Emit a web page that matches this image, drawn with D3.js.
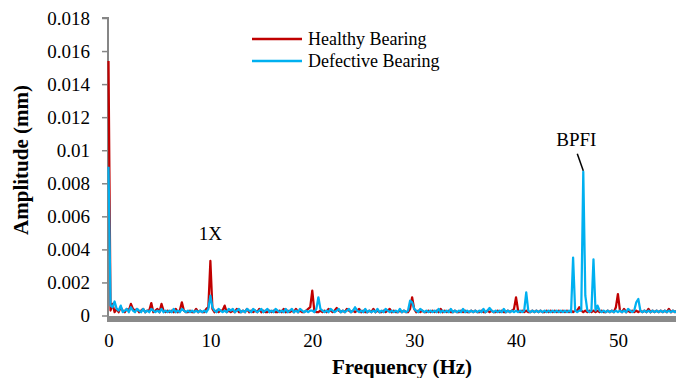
<!DOCTYPE html>
<html>
<head>
<meta charset="utf-8">
<script src="https://cdn.jsdelivr.net/npm/d3@7"></script>
<style>
html,body{margin:0;padding:0;background:#fff;}
svg{display:block;}
text{font-family:"Liberation Serif","DejaVu Serif",serif;fill:#000;}
</style>
</head>
<body>
<svg id="chart" width="676" height="378"></svg>
<script>
// ---- data (frequency step 0.2 Hz, starting at 0 Hz) ----
const freqStep = 0.2;
const healthy = [
0.0154,0.0003,0.0007,0.0002,0.0004,0.0002,0.0005,0.0003,0.0002,0.0004,
0.0003,0.0007,0.0004,0.0003,0.0004,0.0002,0.0003,0.0004,0.0002,0.0003,
0.0003,0.00075,0.0002,0.0003,0.0004,0.0002,0.0007,0.0003,0.0002,0.0003,
0.0002,0.0003,0.0002,0.0004,0.0002,0.0003,0.0008,0.0003,0.0002,0.0002,
0.0003,0.0002,0.0002,0.0004,0.0002,0.0003,0.0002,0.0002,0.0004,0.0005,
0.0033,0.0004,0.0002,0.0003,0.0002,0.0003,0.0003,0.0006,0.0002,0.0003,
0.0002,0.0003,0.0002,0.0004,0.0002,0.0002,0.0003,0.0002,0.0004,0.0002,
0.0003,0.0002,0.0003,0.0002,0.0004,0.0002,0.0003,0.0002,0.0002,0.0003,
0.0002,0.0003,0.0002,0.0002,0.0003,0.0002,0.0004,0.0002,0.0003,0.0002,
0.0003,0.0002,0.0004,0.0002,0.0003,0.0002,0.0002,0.0003,0.0004,0.0005,
0.0015,0.0003,0.0002,0.0002,0.0003,0.0002,0.0003,0.0002,0.0004,0.0003,
0.0002,0.0003,0.00045,0.0003,0.0002,0.0003,0.0002,0.0004,0.0003,0.0002,
0.0003,0.0002,0.0003,0.0004,0.0002,0.0003,0.0002,0.0002,0.0003,0.0002,
0.0004,0.0002,0.0003,0.0002,0.0002,0.0003,0.0002,0.0003,0.0004,0.0002,
0.0003,0.0002,0.0002,0.0003,0.0002,0.0003,0.0002,0.0002,0.0004,0.0011,
0.0004,0.0002,0.0003,0.0002,0.0003,0.0002,0.0002,0.0003,0.0002,0.0003,
0.0002,0.0003,0.0002,0.0004,0.0002,0.0003,0.0002,0.0003,0.0002,0.0002,
0.0003,0.0002,0.0002,0.0003,0.0002,0.0003,0.0002,0.0002,0.0003,0.0002,
0.0003,0.0002,0.0002,0.0003,0.0002,0.0002,0.0003,0.0002,0.0003,0.0002,
0.0002,0.0003,0.0002,0.0003,0.0002,0.0002,0.0003,0.0002,0.0003,0.0004,
0.0011,0.0003,0.0002,0.0003,0.0002,0.0003,0.0002,0.0002,0.0003,0.0002,
0.0003,0.0002,0.0003,0.0002,0.0002,0.0003,0.0002,0.0003,0.0002,0.0003,
0.0002,0.0003,0.0002,0.0003,0.0002,0.0003,0.0002,0.0003,0.0002,0.0003,
0.0003,0.0005,0.0003,0.0002,0.0003,0.0002,0.0003,0.0002,0.0003,0.0002,
0.0003,0.0002,0.0003,0.0002,0.0002,0.0003,0.0002,0.0003,0.0002,0.0005,
0.0013,0.0003,0.0002,0.0004,0.0002,0.0003,0.0002,0.0003,0.0002,0.0003,
0.0002,0.0003,0.0002,0.0003,0.0002,0.0004,0.0002,0.0003,0.0002,0.0003,
0.0002,0.0003,0.0002,0.0003,0.0002,0.0004,0.0002,0.0003,0.0002,0.0003
];
const defective = [
0.009,0.0006,0.0005,0.00085,0.0004,0.0003,0.0006,0.0002,0.0003,0.0004,
0.0002,0.0005,0.0003,0.0002,0.0004,0.0003,0.0002,0.0004,0.0002,0.0003,
0.0002,0.0004,0.0003,0.0002,0.0003,0.0002,0.0004,0.0002,0.0003,0.0002,
0.0003,0.0002,0.0004,0.0002,0.0003,0.0002,0.0004,0.0003,0.0002,0.0003,
0.0002,0.0003,0.0002,0.0003,0.0002,0.0003,0.0002,0.0003,0.0002,0.0004,
0.0012,0.0005,0.0003,0.0002,0.0004,0.0003,0.0002,0.0003,0.0002,0.0004,
0.0003,0.0004,0.0002,0.0003,0.0004,0.0002,0.0003,0.0002,0.0004,0.0003,
0.0002,0.0004,0.0003,0.0002,0.0003,0.0004,0.0002,0.0003,0.0004,0.0002,
0.0003,0.0002,0.0004,0.0003,0.0002,0.0003,0.0002,0.0004,0.0002,0.0003,
0.0004,0.0002,0.0003,0.0002,0.0004,0.0003,0.0002,0.0003,0.0002,0.0003,
0.0003,0.0002,0.0004,0.0011,0.0004,0.0003,0.0002,0.0003,0.0002,0.0004,
0.0003,0.0002,0.0003,0.0004,0.0002,0.0003,0.0002,0.0003,0.0004,0.0002,
0.0003,0.0005,0.0003,0.0002,0.0003,0.0002,0.0004,0.0002,0.0003,0.0002,
0.0003,0.0002,0.0004,0.0002,0.0003,0.0002,0.0004,0.0003,0.0002,0.0003,
0.0002,0.0003,0.0002,0.0004,0.0002,0.0003,0.0002,0.0003,0.0009,0.0008,
0.0004,0.0003,0.0002,0.0004,0.0003,0.0002,0.0003,0.0002,0.0003,0.0002,
0.0003,0.0002,0.0004,0.0002,0.0003,0.0002,0.0003,0.0002,0.0004,0.0002,
0.0003,0.0002,0.0003,0.0002,0.0004,0.0002,0.0003,0.0002,0.0003,0.0002,
0.0003,0.0002,0.0003,0.0002,0.0004,0.0002,0.0003,0.00045,0.0003,0.0002,
0.0003,0.0002,0.0003,0.0002,0.0004,0.0002,0.0003,0.0002,0.0003,0.0002,
0.0003,0.0002,0.0003,0.0002,0.0003,0.0014,0.0003,0.0002,0.0003,0.0002,
0.0003,0.0002,0.0003,0.0002,0.0003,0.0002,0.0003,0.0002,0.0003,0.0002,
0.0003,0.0002,0.0003,0.0002,0.0003,0.0002,0.0003,0.0002,0.0035,0.0003,
0.0002,0.0003,0.0003,0.0087,0.0012,0.0003,0.0002,0.0003,0.0034,0.0003,
0.0006,0.0003,0.0002,0.0003,0.0002,0.0003,0.0002,0.0003,0.0002,0.0003,
0.0002,0.0003,0.0002,0.0003,0.0002,0.0004,0.0003,0.0002,0.0003,0.0008,
0.0010,0.0003,0.0002,0.0003,0.0002,0.0003,0.0002,0.0003,0.0002,0.0003,
0.0002,0.0003,0.0002,0.0003,0.0002,0.0003,0.0002,0.0003,0.0002,0.0003
];
const seriesNames = ["Healthy Bearing","Defective Bearing"];
const seriesColors = ["#C00000","#00B0F0"];
const yTicks = [0,0.002,0.004,0.006,0.008,0.01,0.012,0.014,0.016,0.018];
const yTickLabels = ["0","0.002","0.004","0.006","0.008","0.01","0.012","0.014","0.016","0.018"];
const xTicks = [0,10,20,30,40,50];
const annotations = [{text:"1X", f:10, v:0.0033}, {text:"BPFI", f:46.6, v:0.0087}];

// ---- layout ----
const svg = d3.select("#chart");
const pLeft = 108, pRight = 676, pTop = 18, pBottom = 315.5;
const x = d3.scaleLinear().domain([0, 55.7]).range([pLeft + 0.5, pRight]);
const y = d3.scaleLinear().domain([0, 0.018]).range([pBottom, pTop]);

svg.append("defs").append("clipPath").attr("id","clip")
  .append("rect").attr("x",pLeft-2).attr("y",0).attr("width",pRight-pLeft+2).attr("height",pBottom+1);

// y axis
const yAxis = d3.axisLeft(y).tickValues(yTicks).tickSize(6).tickPadding(12)
  .tickFormat((d,i)=>yTickLabels[i]);
const ya = svg.append("g").attr("transform",`translate(${pLeft},0)`).call(yAxis);
ya.select(".domain").attr("stroke","#868686").attr("stroke-width",2)
  .attr("d",`M-6,${pTop}H0V${pBottom+6}`);
ya.selectAll(".tick line").attr("stroke","#868686").attr("stroke-width",1.5);
ya.selectAll(".tick text").style("font-family","'Liberation Serif',serif").style("font-size","19px").attr("fill","#000");

// series
const data = [healthy, defective];
const line = d3.line().x((d,i)=>x(i*freqStep)).y(d=>y(d));
const g = svg.append("g").attr("clip-path","url(#clip)");
data.forEach((s,k)=>{
  g.append("path").datum(s).attr("d",line)
    .attr("fill","none").attr("stroke",seriesColors[k])
    .attr("stroke-width",2.25).attr("stroke-linejoin","round");
});

// x axis (thick gray band)
svg.append("rect").attr("x",pLeft-1).attr("y",pBottom+0.5).attr("width",pRight-pLeft+1).attr("height",6)
  .attr("fill","#8a8a8a");

// x tick labels
const xa = svg.append("g").attr("transform",`translate(0,${pBottom})`)
  .call(d3.axisBottom(x).tickValues(xTicks).tickSize(0).tickPadding(18).tickFormat(d3.format("d")));
xa.select(".domain").remove();
xa.selectAll(".tick text").style("font-family","'Liberation Serif',serif").style("font-size","19px").attr("fill","#000");

// axis titles
svg.append("text").attr("x",402).attr("y",374).attr("text-anchor","middle")
  .style("font-size","21px").style("font-weight","bold").text("Frequency (Hz)");
svg.append("text").attr("transform","translate(28,160) rotate(-90)").attr("text-anchor","middle")
  .style("font-size","21px").style("font-weight","bold").text("Amplitude (mm)");

// annotations
svg.append("text").attr("x",x(annotations[0].f)).attr("y",y(annotations[0].v)-21)
  .attr("text-anchor","middle").style("font-size","19px").text(annotations[0].text);
svg.append("text").attr("x",x(annotations[1].f)-7).attr("y",y(annotations[1].v)-26)
  .attr("text-anchor","middle").style("font-size","19px").text(annotations[1].text);
svg.append("line").attr("x1",x(annotations[1].f)-6).attr("y1",y(annotations[1].v)-18)
  .attr("x2",x(annotations[1].f)).attr("y2",y(annotations[1].v)-1)
  .attr("stroke","#000").attr("stroke-width",1.5);

// legend
const lg = svg.append("g");
seriesNames.forEach((n,k)=>{
  const yy = 39 + k*22;
  lg.append("line").attr("x1",252).attr("x2",302).attr("y1",yy).attr("y2",yy)
    .attr("stroke",seriesColors[k]).attr("stroke-width",2.5);
  lg.append("text").attr("x",308).attr("y",yy).attr("dy","0.35em")
    .style("font-size","18px").text(n);
});
</script>
</body>
</html>
